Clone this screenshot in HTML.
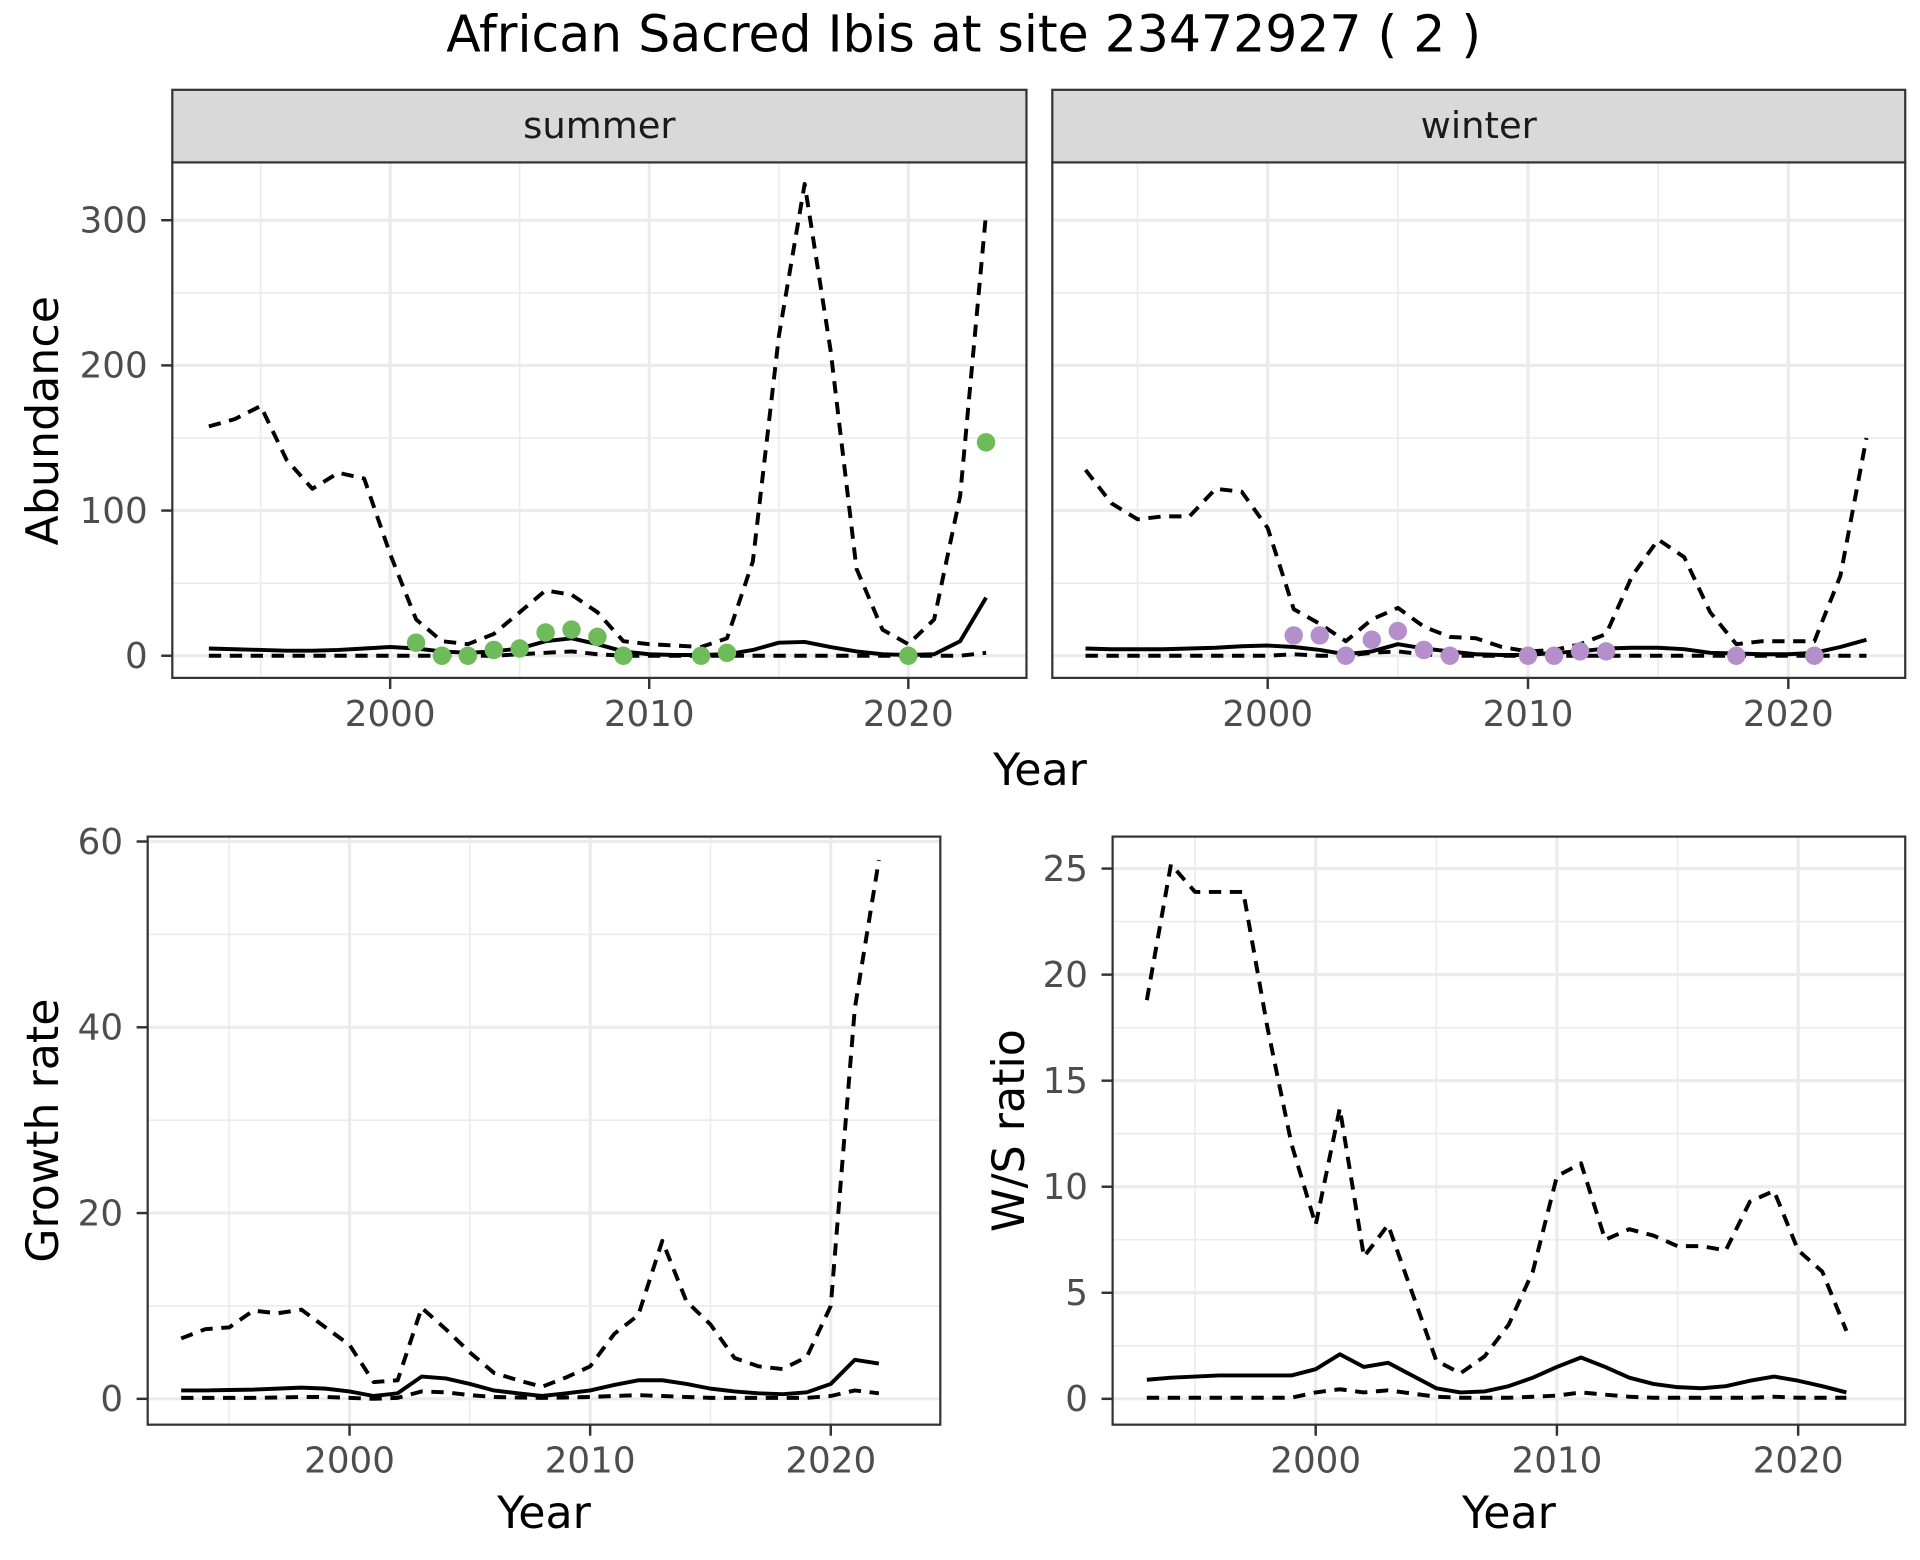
<!DOCTYPE html>
<html><head><meta charset="utf-8"><style>
html,body{margin:0;padding:0;background:#fff;}
svg{display:block;font-family:"DejaVu Sans","Liberation Sans",sans-serif;}
</style></head><body>
<svg id="c" width="1920" height="1560" viewBox="0 0 1560 1268" preserveAspectRatio="none" xmlns="http://www.w3.org/2000/svg">
<rect width="1560" height="1268" fill="#fff"/>
<text x="783" y="42" font-size="41" text-anchor="middle" fill="#000">African Sacred Ibis at site 23472927 ( 2 )</text>
</svg>
<script>
const yearsA = [1993,1994,1995,1996,1997,1998,1999,2000,2001,2002,2003,2004,2005,2006,2007,2008,2009,2010,2011,2012,2013,2014,2015,2016,2017,2018,2019,2020,2021,2022,2023];
const summerUpper = [158,163,172,135,115,126,122,70,25,10,8,15,30,45,42,30,10,8,7,6,12,65,220,325,210,60,18,8,25,110,305];
const summerMid = [5,4.5,4,3.5,3.5,4,5,6,5,3,2,3,5,10,12,8,3,1,0.5,0.5,1,4,9,9.5,6,3,1,0.5,1,10,40];
const summerLower = [0,0,0,0,0,0,0,0,0,0,0,0,1,2,3,1,0,0,0,0,0,0,0,0,0,0,0,0,0,0,2];
const summerPtYears = [2001,2002,2003,2004,2005,2006,2007,2008,2009,2012,2013,2020,2023];
const summerPtVals = [9,0,0,4,5,16,18,13,0,0,2,0,147];
const winterUpper = [128,105,94,96,96,115,113,88,32,22,10,25,33,20,13,12,6,3,4,8,15,55,80,68,30,8,10,10,10,55,150];
const winterMid = [5,4.5,4.5,4.5,5,5.5,6.5,7,6,4,1,3,8,5,3,1,0.5,0.5,2,3,5,5.5,5.5,4.5,2,1.5,1,1,2,6,11];
const winterLower = [0,0,0,0,0,0,0,0,1,0,0,2,3,1,0,0,0,0,0,0,0,0,0,0,0,0,0,0,0,0,0];
const winterPtYears = [2001,2002,2003,2004,2005,2006,2007,2010,2011,2012,2013,2018,2021];
const winterPtVals = [14,14,0,11,17,4,0,0,0,3,3,0,0];
const yearsB = [1993,1994,1995,1996,1997,1998,1999,2000,2001,2002,2003,2004,2005,2006,2007,2008,2009,2010,2011,2012,2013,2014,2015,2016,2017,2018,2019,2020,2021,2022];
const growthUpper = [6.5,7.5,7.7,9.5,9.2,9.6,7.7,5.8,1.8,2,9.8,7.5,5,2.8,2,1.3,2.3,3.5,7,9,17,10.5,8,4.4,3.5,3.2,4.5,10,42,58];
const growthMid = [0.9,0.9,0.95,1,1.1,1.2,1.1,0.8,0.3,0.6,2.4,2.2,1.6,0.9,0.6,0.3,0.6,0.9,1.5,2,2,1.6,1.1,0.8,0.6,0.5,0.7,1.6,4.2,3.8];
const growthLower = [0.1,0.1,0.1,0.1,0.15,0.2,0.2,0.1,0,0.1,0.8,0.7,0.4,0.2,0.15,0.1,0.15,0.2,0.3,0.4,0.3,0.2,0.1,0.1,0.1,0.1,0.1,0.3,0.9,0.6];
const ratioUpper = [18.8,25.2,23.9,23.9,23.9,17.5,12,8.2,13.7,6.7,8.2,5,1.8,1.2,2,3.5,6,10.5,11.1,7.5,8,7.7,7.2,7.2,7,9.3,9.8,7,6,3.2];
const ratioMid = [0.9,1,1.05,1.1,1.1,1.1,1.1,1.4,2.1,1.5,1.7,1.1,0.5,0.3,0.35,0.6,1,1.5,1.95,1.5,1,0.7,0.55,0.5,0.6,0.85,1.05,0.85,0.6,0.3];
const ratioLower = [0.05,0.05,0.05,0.05,0.05,0.05,0.05,0.3,0.45,0.3,0.4,0.25,0.1,0.05,0.05,0.05,0.1,0.15,0.3,0.2,0.1,0.05,0.05,0.05,0.05,0.05,0.1,0.05,0.05,0.05];
const xTicks = [2000,2010,2020];
const xMinor = [1995,2005,2015];
const abTicks = [0,100,200,300];
const abMinor = [50,150,250];
const grTicks = [0,20,40,60];
const grMinor = [10,30,50];
const raTicks = [0,5,10,15,20,25];
const raMinor = [2.5,7.5,12.5,17.5,22.5];

const svg = document.getElementById('c');
const NS = 'http://www.w3.org/2000/svg';
function mk(tag, attrs, parent){const e=document.createElementNS(NS,tag);for(const k in attrs)e.setAttribute(k,attrs[k]);(parent||svg).appendChild(e);return e;}

function panel(name, box, xa, ya, yTicks, yMinor, showY, series, pts, ptColor){
  const g = mk('g',{});
  
  
  const sx = v => xa[1] + (v - xa[0]) * xa[2];
  const sy = v => ya[1] - (v - ya[0]) * ya[2];
  mk('rect',{x:box.x0,y:box.y0,width:box.x1-box.x0,height:box.y1-box.y0,fill:'#fff'},g);
  xMinor.forEach(v=>mk('line',{x1:sx(v),x2:sx(v),y1:box.y0,y2:box.y1,stroke:'#ebebeb','stroke-width':1.3},g));
  yMinor.forEach(v=>{if(sy(v)>box.y0)mk('line',{x1:box.x0,x2:box.x1,y1:sy(v),y2:sy(v),stroke:'#ebebeb','stroke-width':1.3},g);});
  xTicks.forEach(v=>mk('line',{x1:sx(v),x2:sx(v),y1:box.y0,y2:box.y1,stroke:'#ebebeb','stroke-width':2.6},g));
  yTicks.forEach(v=>mk('line',{x1:box.x0,x2:box.x1,y1:sy(v),y2:sy(v),stroke:'#ebebeb','stroke-width':2.6},g));
  series.forEach((s,i)=>{
    const d = s.ys.map((v,j)=>(j?'L':'M')+sx(s.xs[j]).toFixed(1)+','+sy(v).toFixed(1)).join('');
    const p = mk('path',{d:d,fill:'none',stroke:'#000','stroke-width':3.2,'stroke-dasharray':s.dash?'10,7':'none','stroke-linejoin':'round'},g);
    
    
  });
  if(pts){pts.xs.forEach((x,i)=>{
    const c = mk('circle',{cx:sx(x),cy:sy(pts.ys[i]),r:7.5,fill:ptColor},g);
    
    
  });}
  mk('rect',{x:box.x0,y:box.y0,width:box.x1-box.x0,height:box.y1-box.y0,fill:'none',stroke:'#333','stroke-width':1.8},g);
  xTicks.forEach(v=>{
    mk('line',{x1:sx(v),x2:sx(v),y1:box.y1,y2:box.y1+9,stroke:'#333','stroke-width':2},g);
    const t=mk('text',{x:sx(v),y:box.y1+39,'font-size':29,'text-anchor':'middle',fill:'#4d4d4d'},g);t.textContent=v;
    
    
  });
  if(showY) yTicks.forEach(v=>{
    mk('line',{x1:box.x0-9,x2:box.x0,y1:sy(v),y2:sy(v),stroke:'#333','stroke-width':2},g);
    const t=mk('text',{x:box.x0-20,y:sy(v)+10,'font-size':29,'text-anchor':'end',fill:'#4d4d4d'},g);t.textContent=v;
    
    
  });
  return g;
}
function strip(name,label,x0,x1){
  const r=mk('rect',{x:x0,y:73,width:x1-x0,height:59,fill:'#d9d9d9',stroke:'#333','stroke-width':1.8});
  
  
  const t=mk('text',{x:(x0+x1)/2,y:112,'font-size':30,'text-anchor':'middle',fill:'#1a1a1a'});t.textContent=label;
  
  
}
function label(name,txt,x,y,rot){
  const t=mk('text',{x:x,y:y,'font-size':36,'text-anchor':'middle',fill:'#000',transform:rot?`rotate(-90 ${x} ${y})`:''});t.textContent=txt;
  
  
}
const abY=[0,533,354/300];
panel('summer-panel',{x0:140,x1:834,y0:132,y1:551},[2000,317,21.05],abY,abTicks,abMinor,true,
 [{name:'summer-upper-line',xs:yearsA,ys:summerUpper,dash:true},{name:'summer-mid-line',xs:yearsA,ys:summerMid,dash:false},{name:'summer-lower-line',xs:yearsA,ys:summerLower,dash:true}],
 {xs:summerPtYears,ys:summerPtVals},'#6dbb5a');
strip('summer-strip','summer',140,834);
panel('winter-panel',{x0:855,x1:1548,y0:132,y1:551},[2000,1030,21.15],abY,abTicks,abMinor,false,
 [{name:'winter-upper-line',xs:yearsA,ys:winterUpper,dash:true},{name:'winter-mid-line',xs:yearsA,ys:winterMid,dash:false},{name:'winter-lower-line',xs:yearsA,ys:winterLower,dash:true}],
 {xs:winterPtYears,ys:winterPtVals},'#b58fc9');
strip('winter-strip','winter',855,1548);
label('top-x-axis-title','Year',845,638,false);
label('abundance-y-axis-title','Abundance',47,342,true);
panel('growth-panel',{x0:120,x1:764,y0:680,y1:1158},[2000,284,19.55],[0,1137,453/60],grTicks,grMinor,true,
 [{name:'growth-upper-line',xs:yearsB,ys:growthUpper,dash:true},{name:'growth-mid-line',xs:yearsB,ys:growthMid,dash:false},{name:'growth-lower-line',xs:yearsB,ys:growthLower,dash:true}],null,null);
label('growth-x-axis-title','Year',442,1242,false);
label('growth-y-axis-title','Growth rate',47,919,true);
panel('ratio-panel',{x0:904,x1:1548,y0:680,y1:1158},[2000,1069,19.6],[0,1137,431/25],raTicks,raMinor,true,
 [{name:'ratio-upper-line',xs:yearsB,ys:ratioUpper,dash:true},{name:'ratio-mid-line',xs:yearsB,ys:ratioMid,dash:false},{name:'ratio-lower-line',xs:yearsB,ys:ratioLower,dash:true}],null,null);
label('ratio-x-axis-title','Year',1226,1242,false);
label('ratio-y-axis-title','W/S ratio',832,919,true);
</script>
</body></html>
